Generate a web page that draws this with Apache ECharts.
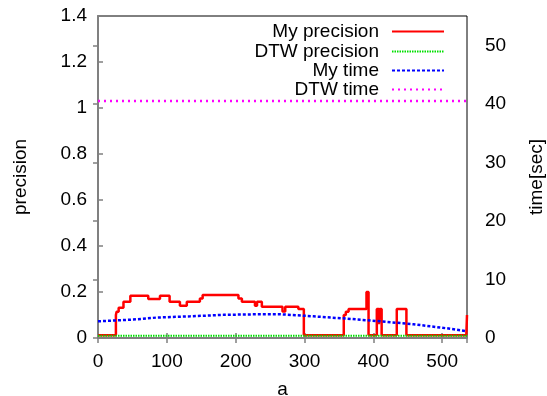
<!DOCTYPE html>
<html>
<head>
<meta charset="utf-8">
<script src="https://cdn.jsdelivr.net/npm/echarts@6/dist/echarts.min.js"></script>
<style>
  html, body { margin: 0; padding: 0; background: #fff; }
  #chart { width: 547px; height: 396px; }
</style>
</head>
<body>
<div id="chart"></div>
<script>
// My precision (step line): x where the level starts, and the level
const myPrecX = [0, 26, 27, 30, 37, 47, 73, 90, 104, 119, 129, 148, 152, 204, 209, 228, 231, 238, 268, 272, 291, 299, 357, 360, 364, 390, 393, 405, 408, 409, 412, 434, 448, 535, 536];
const myPrecY = [0.012, 0.10, 0.114, 0.132, 0.158, 0.184, 0.17, 0.184, 0.158, 0.14, 0.158, 0.172, 0.187, 0.172, 0.158, 0.14, 0.158, 0.136, 0.115, 0.136, 0.126, 0.012, 0.10, 0.114, 0.126, 0.20, 0.012, 0.126, 0.06, 0.126, 0.012, 0.126, 0.012, 0.012, 0.10];

// DTW precision
const dtwPrecX = [0, 536];
const dtwPrecY = [0.01, 0.01];

// My time [sec]
const myTimeX = [0, 51, 86, 134, 182, 231, 265, 313, 362, 410, 458, 507, 533, 536];
const myTimeY = [2.85, 3.15, 3.5, 3.7, 3.95, 4.05, 4.05, 3.7, 3.3, 2.85, 2.35, 1.65, 1.2, 1.15];

// DTW time [sec]
const dtwTimeX = [0, 536];
const dtwTimeY = [40.5, 40.5];

const seriesNames = ['My precision', 'DTW precision', 'My time', 'DTW time'];

function pairs(xs, ys) {
  return xs.map((x, i) => [x, ys[i]]);
}

const FONT = 'Liberation Sans';
const chart = echarts.init(document.getElementById('chart'), null, { renderer: 'canvas' });

const legendTops = [22, 42, 61, 80];
const legends = seriesNames.map((name, i) => ({
  data: [name],
  orient: 'vertical',
  right: 102,
  top: legendTops[i],
  align: 'right',
  padding: 0,
  itemWidth: 52,
  itemHeight: 14,
  selectedMode: false,
  itemStyle: { opacity: 0 },
  textStyle: { fontFamily: FONT, fontSize: 19, color: '#000', lineHeight: 19, padding: [0, 8, 0, 0] }
}));

const axisLabelStyle = { fontFamily: FONT, fontSize: 19, color: '#000' };

chart.setOption({
  animation: false,
  backgroundColor: '#fff',
  grid: {
    left: 98, right: 80, top: 16, bottom: 58,
    outerBoundsMode: 'none',
    show: true, borderColor: '#000', borderWidth: 1
  },
  legend: legends,
  xAxis: [{
    type: 'value',
    min: 0, max: 536, interval: 100,
    name: 'a', nameLocation: 'middle', nameGap: 42,
    nameTextStyle: { fontFamily: FONT, fontSize: 19, color: '#000' },
    axisLine: { show: true, lineStyle: { color: '#808080', width: 2 } },
    axisTick: { show: true, inside: true, length: 5, lineStyle: { color: '#808080', width: 1.5 } },
    axisLabel: Object.assign({ margin: 14, showMaxLabel: false }, axisLabelStyle),
    splitLine: { show: false }
  }, {
    type: 'value',
    position: 'top',
    min: 0, max: 536, interval: 100,
    axisLine: { show: false },
    axisTick: { show: true, inside: true, length: 5, lineStyle: { color: '#808080', width: 1.5 } },
    axisLabel: { show: false },
    splitLine: { show: false }
  }],
  yAxis: [{
    type: 'value',
    min: 0, max: 1.4, interval: 0.2,
    name: 'precision', nameLocation: 'middle', nameGap: 68, nameRotate: 90,
    nameTextStyle: { fontFamily: FONT, fontSize: 19, color: '#000' },
    axisLine: { show: true, lineStyle: { color: '#808080', width: 2 } },
    axisTick: { show: true, inside: true, length: 5, lineStyle: { color: '#808080', width: 1.5 } },
    axisLabel: Object.assign({ margin: 11 }, axisLabelStyle),
    splitLine: { show: false }
  }, {
    type: 'value',
    position: 'right',
    min: 0, max: 55, interval: 10,
    name: 'time[sec]', nameLocation: 'middle', nameGap: 60, nameRotate: 90,
    nameTextStyle: { fontFamily: FONT, fontSize: 19, color: '#000' },
    axisLine: { show: true, lineStyle: { color: '#808080', width: 2 } },
    axisTick: { show: true, inside: true, length: 5, lineStyle: { color: '#808080', width: 1.5 } },
    axisLabel: Object.assign({ margin: 18, showMaxLabel: false }, axisLabelStyle),
    splitLine: { show: false }
  }],
  series: [{
    name: seriesNames[0],
    type: 'line',
    step: 'end',
    symbol: 'none',
    data: pairs(myPrecX, myPrecY),
    lineStyle: { color: '#ff0000', width: 2.5 },
    itemStyle: { color: '#ff0000' }
  }, {
    name: seriesNames[1],
    type: 'line',
    symbol: 'none',
    data: pairs(dtwPrecX, dtwPrecY),
    lineStyle: { color: '#00e000', width: 2, type: [1.5, 1] },
    itemStyle: { color: '#00e000' }
  }, {
    name: seriesNames[2],
    type: 'line',
    yAxisIndex: 1,
    symbol: 'none',
    data: pairs(myTimeX, myTimeY),
    lineStyle: { color: '#0000ff', width: 2.5, type: [3, 2] },
    itemStyle: { color: '#0000ff' }
  }, {
    name: seriesNames[3],
    type: 'line',
    yAxisIndex: 1,
    symbol: 'none',
    data: pairs(dtwTimeX, dtwTimeY),
    lineStyle: { color: '#ff00ff', width: 2.5, type: [2, 4] },
    itemStyle: { color: '#ff00ff' }
  }]
});
</script>
</body>
</html>
